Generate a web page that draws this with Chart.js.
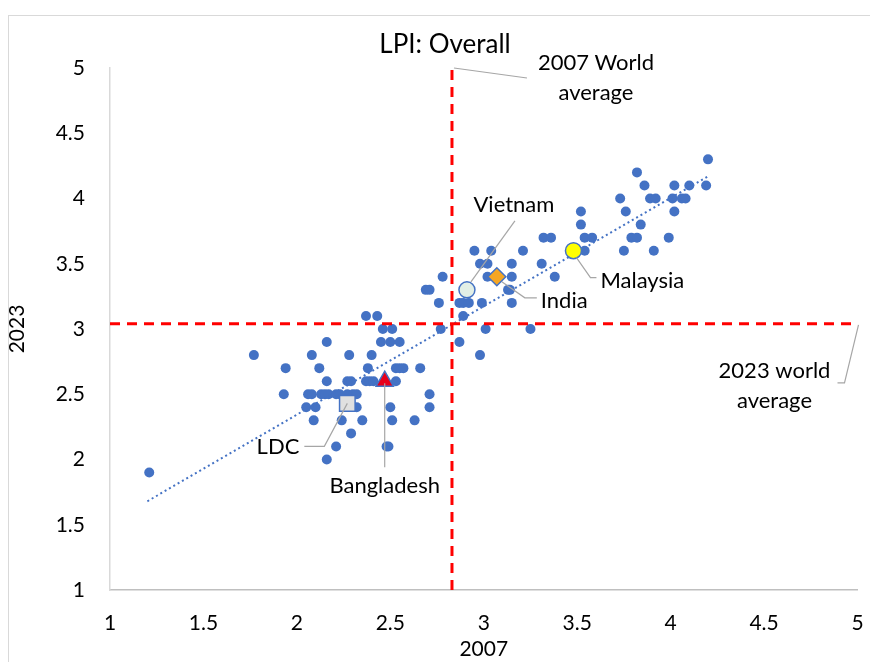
<!DOCTYPE html>
<html><head><meta charset="utf-8">
<script src="https://cdn.jsdelivr.net/npm/chart.js@4"></script>
<style>html,body{margin:0;padding:0;background:#fff;}#wrap{position:relative;width:870px;height:662px;}</style>
</head><body><div id="wrap"><canvas id="c" width="870" height="662"></canvas></div>
<script>
// LPI overall score, 2007 (x) vs 2023 (y), one point per country
const x2007 = [
 4.20,
 3.82,
 3.86,4.02,4.10,4.19,
 3.73,3.89,3.92,4.01,4.06,4.08,
 3.52,3.76,4.02,
 3.52,3.84,
 3.32,3.36,3.54,3.58,3.79,3.82,3.99,
 2.95,3.04,3.21,3.54,3.75,3.91,
 2.98,3.02,3.15,3.31,
 2.78,3.02,3.15,3.38,
 2.69,2.71,3.13,3.14,
 2.76,2.87,2.89,2.92,2.99,3.15,
 2.37,2.43,2.89,
 2.46,2.51,2.77,3.01,3.25,
 2.16,2.45,2.50,2.55,2.87,
 1.77,2.08,2.28,2.40,2.98,
 1.94,2.12,2.38,2.53,2.55,2.57,2.66,
 2.16,2.27,2.29,2.37,2.39,2.41,2.53,
 1.93,2.06,2.08,2.13,2.15,2.17,2.21,2.23,2.27,2.30,2.32,2.71,
 2.05,2.10,2.32,2.50,2.71,
 2.09,2.24,2.35,2.51,2.63,
 2.29,
 2.21,2.48,2.49,
 2.16,
 1.21
];
const y2023 = [
 4.3,
 4.2,
 4.1,4.1,4.1,4.1,
 4.0,4.0,4.0,4.0,4.0,4.0,
 3.9,3.9,3.9,
 3.8,3.8,
 3.7,3.7,3.7,3.7,3.7,3.7,3.7,
 3.6,3.6,3.6,3.6,3.6,3.6,
 3.5,3.5,3.5,3.5,
 3.4,3.4,3.4,3.4,
 3.3,3.3,3.3,3.3,
 3.2,3.2,3.2,3.2,3.2,3.2,
 3.1,3.1,3.1,
 3.0,3.0,3.0,3.0,3.0,
 2.9,2.9,2.9,2.9,2.9,
 2.8,2.8,2.8,2.8,2.8,
 2.7,2.7,2.7,2.7,2.7,2.7,2.7,
 2.6,2.6,2.6,2.6,2.6,2.6,2.6,
 2.5,2.5,2.5,2.5,2.5,2.5,2.5,2.5,2.5,2.5,2.5,2.5,
 2.4,2.4,2.4,2.4,2.4,
 2.3,2.3,2.3,2.3,2.3,
 2.2,
 2.1,2.1,2.1,
 2.0,
 1.9
];
// highlighted economies [2007, 2023]
const vietnam = [2.91, 3.3];
const india = [3.07, 3.4];
const malaysia = [3.48, 3.6];
const bangladesh = [2.47, 2.6];
const ldc = [2.27, 2.43];
// world averages
const worldAvg2007 = 2.83;
const worldAvg2023 = 3.04;
// linear trendline end points [2007, 2023]
const trendStart = [1.2, 1.68];
const trendEnd = [4.2, 4.17];
// axes
const axisMin = 1, axisMax = 5;
const xTickLabels = ['1','1.5','2','2.5','3','3.5','4','4.5','5'];
const yTickLabels = ['1','1.5','2','2.5','3','3.5','4','4.5','5'];
const chartTitle = 'LPI: Overall';
const xTitle = '2007';
const yTitle = '2023';

const mainPts = x2007.map((x,i)=>({x, y:y2023[i]}));
const trendPts = [{x:trendStart[0],y:trendStart[1]},{x:trendEnd[0],y:trendEnd[1]}];

const FONT = 'Lato, "Open Sans", sans-serif';
const BLUE = '#4472C4';
const GREYLINE = '#a6a6a6';

const annot = {
  id:'annot',
  beforeDraw(chart){
    const ctx = chart.ctx;
    ctx.save();
    ctx.fillStyle='#fff'; ctx.fillRect(0,0,chart.width,chart.height);
    ctx.strokeStyle='#d9d9d9'; ctx.lineWidth=1;
    ctx.strokeRect(8.5,15.5,chart.width+20,chart.height+20);
    ctx.restore();
  },
  afterDraw(chart){
    const ctx = chart.ctx, sx = chart.scales.x, sy = chart.scales.y;
    const P = (v)=>[sx.getPixelForValue(v[0]), sy.getPixelForValue(v[1])];
    ctx.save();
    ctx.strokeStyle = GREYLINE; ctx.lineWidth = 1.2;
    const poly = (pts)=>{ctx.beginPath(); ctx.moveTo(pts[0][0],pts[0][1]); for(let i=1;i<pts.length;i++) ctx.lineTo(pts[i][0],pts[i][1]); ctx.stroke();};
    ctx.fillStyle = '#000';
    ctx.font = '22px ' + FONT;
    ctx.textBaseline = 'middle';
    // Vietnam
    let [vx,vy] = P(vietnam);
    poly([[vx+4,vy-8],[vx+48,vy-69]]);
    ctx.textAlign='center'; ctx.fillText('Vietnam', vx+47, vy-85);
    // India
    let [ix,iy] = P(india);
    poly([[ix+5,iy+5],[ix+28,iy+21],[ix+40,iy+21]]);
    ctx.textAlign='left'; ctx.fillText('India', ix+44, iy+24);
    // Malaysia
    let [mxp,myp] = P(malaysia);
    poly([[mxp+3,myp+7],[mxp+17,myp+27],[mxp+23,myp+27]]);
    ctx.textAlign='left'; ctx.fillText('Malaysia', mxp+27, myp+30);
    // Bangladesh
    let [bx,by] = P(bangladesh);
    poly([[bx,by+2],[bx,by+86]]);
    ctx.textAlign='center'; ctx.fillText('Bangladesh', bx, by+105);
    // LDC
    let [lx,ly] = P(ldc);
    poly([[lx,ly],[lx-23,ly+43],[lx-43,ly+43]]);
    ctx.textAlign='right'; ctx.fillText('LDC', lx-48, ly+44);
    // 2007 world average
    const wx = sx.getPixelForValue(worldAvg2007), wy = sy.getPixelForValue(axisMax);
    poly([[wx+2,wy],[wx+75,wy+10]]);
    ctx.textAlign='center';
    ctx.fillText('2007 World', wx+144, wy-5);
    ctx.fillText('average', wx+144, wy+25);
    // 2023 world average
    const hx = sx.getPixelForValue(axisMax), hy = sy.getPixelForValue(worldAvg2023);
    poly([[hx+1,hy+1],[hx-13,hy+59],[hx-20,hy+59]]);
    ctx.fillText('2023 world', hx-83, hy+47);
    ctx.fillText('average', hx-83, hy+77);
    // chart title
    ctx.font = '26px ' + FONT;
    ctx.fillText(chartTitle, 445, 45);
    ctx.restore();
  }
};

new Chart(document.getElementById('c'), {
  type:'scatter',
  data:{datasets:[
    {label:'LPI', data: mainPts, backgroundColor: BLUE, borderColor: BLUE, pointRadius:5, pointBorderWidth:0, order:6},
    {label:'Trend', type:'line', data: trendPts, borderColor: BLUE, borderWidth:2, borderDash:[2,3], pointRadius:0, fill:false, order:5},
    {label:'2007 world average', type:'line', data:[{x:worldAvg2007,y:axisMin},{x:worldAvg2007,y:axisMax}], borderColor:'#FF0000', borderWidth:3, borderDash:[10,7], pointRadius:0, fill:false, order:4},
    {label:'2023 world average', type:'line', data:[{x:axisMin,y:worldAvg2023},{x:axisMax,y:worldAvg2023}], borderColor:'#FF0000', borderWidth:3, borderDash:[10,7], pointRadius:0, fill:false, order:4},
    {label:'LDC', data:[{x:ldc[0],y:ldc[1]}], pointStyle:'rect', pointRadius:11, backgroundColor:'#e0e0e0', borderColor:BLUE, pointBorderWidth:1.5, order:1},
    {label:'Bangladesh', data:[{x:bangladesh[0],y:bangladesh[1]}], pointStyle:'triangle', pointRadius:10, backgroundColor:'#e8001c', borderColor:BLUE, pointBorderWidth:1.5, order:1},
    {label:'Vietnam', data:[{x:vietnam[0],y:vietnam[1]}], pointStyle:'circle', pointRadius:8, backgroundColor:'#e2efe6', borderColor:BLUE, pointBorderWidth:1.5, order:1},
    {label:'India', data:[{x:india[0],y:india[1]}], pointStyle:'rectRot', pointRadius:9, backgroundColor:'#f5a623', borderColor:BLUE, pointBorderWidth:1.5, order:1},
    {label:'Malaysia', data:[{x:malaysia[0],y:malaysia[1]}], pointStyle:'circle', pointRadius:8, backgroundColor:'#ffff00', borderColor:BLUE, pointBorderWidth:1.5, order:1}
  ]},
  options:{
    responsive:false, animation:false, devicePixelRatio:1,
    layout:{padding:{left:0,right:12,top:68,bottom:0}},
    plugins:{legend:{display:false}, tooltip:{enabled:false}, title:{display:false}},
    scales:{
      x:{type:'linear', min:axisMin, max:axisMax,
         grid:{display:false, drawTicks:false},
         border:{display:true, color:'#bfbfbf', width:1.5},
         ticks:{stepSize:0.5, padding:21, color:'#000', font:{family:FONT,size:21},
                callback:(v)=>{const i=Math.round((v-axisMin)/0.5); return xTickLabels[i];}, maxRotation:0},
         title:{display:true, text:xTitle, color:'#000', font:{family:FONT,size:21}, padding:{top:-3,bottom:0}},
         afterFit:(s)=>{s.height=72; s.paddingRight=0; s.paddingLeft=0;}
      },
      y:{type:'linear', min:axisMin, max:axisMax,
         grid:{display:false, drawTicks:false},
         border:{display:true, color:'#d9d9d9', width:1.5},
         ticks:{stepSize:0.5, padding:25, color:'#000', font:{family:FONT,size:21},
                callback:(v)=>{const i=Math.round((v-axisMin)/0.5); return yTickLabels[i];}},
         title:{display:true, text:yTitle, color:'#000', font:{family:FONT,size:21}, padding:{top:5,bottom:0}},
         afterFit:(s)=>{s.width=110;}
      }
    }
  },
  plugins:[annot]
});
</script></body></html>
